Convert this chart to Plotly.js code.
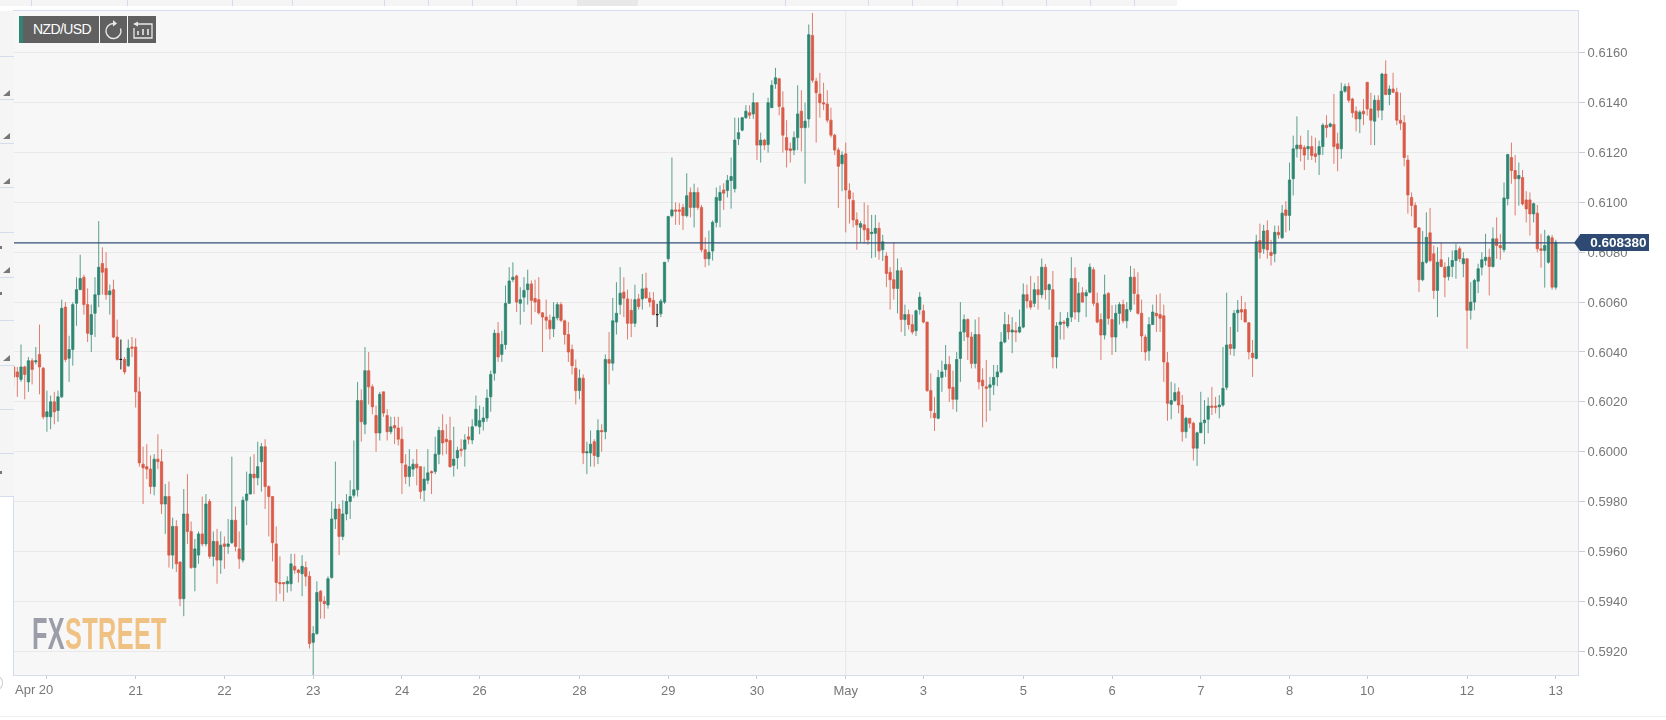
<!DOCTYPE html>
<html><head><meta charset="utf-8">
<script src="https://cdn.plot.ly/plotly-3.0.1.min.js"></script>
<style>
html,body{margin:0;padding:0;background:#fff;width:1666px;height:720px;overflow:hidden;font-family:"Liberation Sans",Arial,sans-serif}
#wrap{position:relative;width:1666px;height:720px;filter:blur(0.35px)}
#chart{position:absolute;left:0;top:0;width:1666px;height:720px}
.o{position:absolute;box-sizing:border-box}
#tabs{left:0;top:0;width:1177px;height:5.5px;background:#f5f5f5}
#tabs i{position:absolute;top:0;width:1px;height:5.5px;background:#d5dcee}
#side{left:0;top:11px;width:13.5px;height:486px;background:#f5f5f5}
#side i{position:absolute;left:0;width:13.5px;height:1px;background:#d5dcee}
#side b{position:absolute;left:3px;width:0;height:0;border-left:7px solid transparent;border-bottom:6px solid #777}
#side u{position:absolute;left:0;width:2px;height:2.5px;background:#777}
.btn{top:16px;height:27px;background:#606060}
#foot{left:0;top:716px;width:1666px;height:1px;background:#eee}
#arc{left:-8px;top:676px;width:11px;height:14px;border:1px solid #ccc;border-radius:50%}
#wm{left:32px;top:609px;font:bold 44px "Liberation Sans",sans-serif;transform-origin:0 0;transform:scaleX(0.575);white-space:nowrap;letter-spacing:.6px}
</style></head><body>
<div id="wrap">
<div id="chart"></div>
<div class="o" id="tabs"></div>
<div class="o" id="side"></div>
<div class="o btn" style="left:19px;width:80px;color:#fff;font-size:14px;line-height:27px;text-align:right;padding-right:8px;letter-spacing:-.6px;border-left:4.5px solid #2e8672">NZD/USD</div>
<div class="o btn" style="left:100px;width:27px"><svg width="27" height="27" viewBox="0 0 27 27"><path d="M13.500 7.500a7.500 7.500 0 1 0 7 5" fill="none" stroke="#e8e8e8" stroke-width="1.4"/><path d="M13 4l4 3.500-4 3z" fill="#e8e8e8"/></svg></div>
<div class="o btn" style="left:128px;width:28px"><svg width="28" height="27" viewBox="0 0 28 27"><path d="M9 8h15v14H6v-10" fill="none" stroke="#e8e8e8" stroke-width="1.3"/><path d="M10 5.500l-5 2.500 5 2.500z" fill="#e8e8e8"/><path d="M10 19v-4M15 19v-6M20 19v-6" stroke="#e8e8e8" stroke-width="1.6"/></svg></div>
<div class="o" id="wm"><span style="color:#9b9da8">FX</span><span style="color:#efc283">STREET</span></div>
<div class="o" id="foot"></div>
<div class="o" id="arc"></div>
</div>
<script>
// Prices are in units of 0.0001 (6034 = 0.6034)
const opens=[
6034,6032,6029,6034,6028,6036.5,6036,6039,6033.5,6014,
6014,6020,6016.5,6022,6058,6037.5,6041,6059.5,6065,6070,
6059,6047,6055.5,6063,6075.5,6073.5,6063,6065,6046,6037,
6037,6034.5,6042,6042,6024,5995,5994,5993,5986,5997,
5996,5979,5982,5958.5,5970,5955.7,5941,5975,5968,5953.5,
5958.5,5967,5963,5980,5958,5964,5956.5,5963,5962,5963.5,
5972.5,5961,5956.5,5980.5,5983,5991,5989.5,5996,6002,5986,
5982,5963,5947.5,5947.5,5947,5947,5954,5952.5,5951,5953.5,
5950,5923.5,5927,5944,5940,5938.5,5949.5,5973,5977,5966,
5975,5980,5982.5,5984.7,6020.5,6011,6032.5,6026,6014.5,6007.5,
6024,6014.5,6008,6010.5,6009.5,6005,5994.7,5990,5993,5995,
5994,5984.5,5988.5,5992,5992,5999,6008.5,6005,6004.5,5994.5,
5997.5,6001,6001,6006,6004.7,6010.5,6010,6012,6013.5,6022,
6031.5,6047.5,6039,6043,6059.5,6069,6070.5,6059.5,6062,6065,
6067.3,6061.5,6061,6055.7,6054,6052.7,6049.3,6053.7,6059,6052.5,
6047,6041,6033.5,6024.5,6029.5,5999.5,5999.5,6004,5998,6008.5,
6008,6037,6035.5,6052,6059,6064,6061.3,6056.7,6051.5,6061.3,
6061.3,6065.6,6061.6,6060.7,6055,6055.3,6060,6077.4,6094.7,6097,
6097,6098,6094.7,6104,6098,6104,6098,6081,6077.4,6080.5,
6092,6100.8,6105,6104.8,6108.8,6105.5,6125.5,6129,6134,6136,
6135.5,6140,6123,6125,6123.2,6138,6147.5,6149.6,6138,6126,
6121.5,6121,6126,6136.6,6130,6133.5,6167,6148.6,6143.5,6140,
6139.5,6133,6127,6121,6115.5,6119.5,6104.7,6100.8,6093,6090,
6091,6089.5,6087.5,6087.6,6089.6,6081,6078.5,6072,6069,6065.5,
6072.6,6053,6055,6051,6048.5,6057,6056.5,6052,6024.5,6015.4,
6013.4,6029.8,6033,6035,6025.8,6021,6037.4,6048,6053,6046,
6035.4,6047,6028.7,6026,6025.8,6026.8,6030,6032,6044,6051,
6048,6048.5,6048,6050,6063,6060.5,6059.5,6065,6063,6074,
6065,6065,6038,6051,6052,6050.4,6054,6069.5,6056,6063.8,
6062.5,6064,6073,6059.5,6053,6046.8,6063.5,6053,6046,6055.5,
6059,6052.5,6057,6070,6063,6055.5,6046,6040.5,6051,6055.5,
6055,6054.5,6035.7,6019,6020.5,6024,6018.7,6008,6013.4,6011.4,
6001.4,6007.6,6011.6,6013,6018.3,6018.3,6018,6018.7,6025.8,6043,
6041.4,6055.7,6057,6057,6051.7,6039.5,6037.4,6084.7,6081.4,6088.7,
6080,6079.4,6088,6085.8,6097,6094.8,6109.5,6121.5,6123,6122,
6121.5,6122.4,6119.5,6119.2,6122.4,6131,6130.5,6131.3,6123.5,6121.5,
6144.6,6146.5,6141.5,6136.6,6133.5,6136.6,6148.2,6137.5,6132.6,6141,
6137,6151.5,6143.3,6145.5,6144.2,6133,6132,6117,6102,6098.8,
6089.8,6069,6076,6087.8,6079.4,6064.7,6077,6074,6070.3,6074.3,
6076.7,6081.4,6075.4,6077.4,6056.7,6060,6068.4,6074,6076.7,6078,
6074.3,6085.4,6082.7,6081,6101.5,6118,6112.8,6109.5,6110,6101,
6101,6095.4,6095.7,6081.4,6080.7,6076,6085.8,6066];
const closes=[
6030,6030,6034,6031,6036.5,6033,6036.5,6034,6014,6016,
6020,6016,6022,6057.5,6037,6041,6059,6065,6069.5,6059,
6047.5,6055,6063,6074,6072,6063,6064.5,6046,6037,6037,
6032,6041.5,6041.5,6024,5995.5,5993.5,5993,5986,5997,5996,
5979,5982,5958.5,5970,5955,5941,5975,5968,5953.5,5961,
5967,5963,5979,5958,5964,5956.5,5962.5,5962,5963,5972.5,
5962,5957,5980.5,5983,5991,5989.5,5994,6002,5986,5982,
5963.5,5947.5,5947,5947,5948,5955,5952.5,5951.5,5954,5950,
5923,5927,5943.5,5940,5939,5949,5973,5977,5966,5975,
5980,5982,5984.7,6020.5,6012,6032.5,6026,6018,6007.5,6023,
6015.5,6008,6010,6009.5,6005,5995.5,5990,5994,5995,5993.5,
5984,5989,5991.5,5991.5,5999,6008.5,6003.5,6004,5994,5997,
6000.5,6000.5,6004.7,6005,6010,6017,6012.5,6013.5,6021.5,6031,
6047.5,6038,6043,6059.5,6068.5,6070,6060,6061,6064.7,6067.3,
6060.7,6060,6055.7,6054,6052.7,6049.3,6054,6059,6052.7,6047,
6040,6034.5,6024.5,6029.5,5999.5,6000,6003,5998.5,6008.5,6008,
6037,6035.5,6052.5,6055.5,6063.6,6061.6,6051.5,6051.5,6061,6058.2,
6065.3,6061.7,6060,6055,6055,6060.4,6076,6094.4,6097,6096.5,
6096.5,6094.7,6102.7,6098,6104,6098,6081,6077.4,6080,6092,
6102,6104,6103.7,6108.8,6110.4,6125,6128,6134,6136.6,6135,
6140,6123,6125,6123,6140,6147,6150,6138.5,6127,6121,
6120.8,6126,6135.5,6130,6132.6,6167.3,6149,6144,6140,6139.5,
6133,6127,6121,6114.5,6119,6105,6101.5,6093,6091,6091.5,
6089,6085,6088,6089.6,6080.5,6084.2,6071.5,6069,6065.5,6072.6,
6053,6055,6051,6048,6056.5,6062,6052,6024.5,6016.5,6013.6,
6029.8,6032,6035,6025.4,6021,6037,6048,6053,6046,6035.4,
6047,6028,6026.4,6025.4,6026.8,6029.8,6032,6044,6051,6048,
6048.8,6048,6050,6063,6060.5,6058,6065,6063,6074,6065,
6067,6038,6050.4,6052,6051.5,6053.5,6069.5,6056,6063.5,6060,
6063.8,6074,6059.5,6052,6046.8,6063,6053.5,6046,6055.5,6059,
6052.5,6057,6070,6063.5,6055.5,6046.4,6040,6051,6056,6054.5,
6053.5,6036,6019.4,6020.5,6023.7,6018.7,6008,6013.4,6011.4,6001.4,
6007.6,6011.6,6012.7,6018.3,6017.8,6017.8,6018.7,6025.4,6042.8,6041.4,
6055.5,6056.8,6056,6052,6040,6037.8,6084.2,6080,6088.5,6081,
6078.7,6088,6087,6095.7,6094.8,6109,6121.5,6123,6121.5,6119,
6122.4,6118.8,6118.4,6122.4,6131,6130,6131.5,6122.4,6121.5,6144.6,
6146.5,6141,6136,6133.5,6136.2,6135.5,6137.5,6133,6141,6137,
6151.5,6143.3,6145.5,6144.2,6133,6131.8,6118,6103,6098.8,6090,
6069,6076,6086,6076.7,6064.7,6076,6074.3,6070,6074.3,6076.7,
6080.7,6077.4,6077.4,6056.7,6060,6068.7,6073.4,6077,6078,6074.3,
6085.4,6082.7,6081.8,6101.8,6119.2,6112.8,6109.5,6110.8,6099.4,6097.4,
6095.4,6099.5,6081.4,6080.7,6082.7,6086.4,6066,6084];
const highs=[
6035,6034,6043,6034.5,6038,6037.5,6042,6051,6034,6024.5,
6022.5,6024,6024.5,6061,6060,6046.5,6060,6070,6079,6071,
6065.5,6059,6070,6092.5,6082,6080,6067,6069,6053,6045,
6038,6045,6046,6045.5,6030,6002,6003,5998.5,5999,6007,
6001,5987,5988,5973.5,5972.5,5956,5985,5991,5972,5965,
5968,5982,5983,5981,5968,5969,5968,5966,5973,5998,
5978,5968,5982,5992,5998,5999,6004,6003.5,6005,5986.5,
5982,5970,5958,5947.5,5950,5959,5959,5953,5958.5,5956,
5952,5930,5948,5944.5,5942,5950,5980,5996,5979,5980.5,
5983,5988.5,6004.5,6028,6025,6042,6040,6027,6018.5,6024,
6024,6017,6014,6014,6014,6010,5999,6001,5997,6001,
5994,5994,6001,5992.5,6006,6010,6015,6011,6014,6010,
6002,6005,6007,6010,6013,6022.5,6018.5,6018,6025,6032.5,
6049,6052,6048.5,6066.7,6074,6076,6071,6066,6070,6073,
6068.7,6069,6070,6056,6061,6055,6060,6060,6060,6053,
6052,6043,6037,6033,6031,6004,6008.5,6005,6013,6011,
6039,6048,6061.7,6068,6074,6070,6065,6061.3,6067,6063.3,
6071.3,6071.8,6064,6064,6059.3,6061.3,6076,6094.4,6118,6100,
6099.7,6099.4,6111.7,6106,6107.5,6106,6099,6086,6088.7,6092.8,
6106,6106.8,6107.7,6111,6118,6134,6134,6134.3,6139,6139,
6144,6140,6128,6125.5,6142,6149,6154,6150,6144.6,6133,
6124,6128.5,6147,6145,6140,6171.4,6176,6150,6152,6148,
6145,6138,6127.5,6122,6120.5,6124,6107.7,6104,6096,6092.5,
6100,6099,6095,6095,6092,6087,6080,6074,6084,6077.5,
6074,6059,6057,6055,6057,6064,6059,6052,6031.4,6022,
6032.8,6036.5,6042.8,6038.4,6032.5,6040,6060,6055,6053.5,6048,
6053,6054,6033.4,6036.8,6030,6034.8,6034.8,6048,6056,6055,
6054,6052,6057,6067.5,6067,6070.5,6067.8,6070.5,6077.5,6075.3,
6067.5,6072.5,6052,6056,6052.8,6056,6078,6074,6068,6066,
6065,6075.5,6074,6063.8,6055.5,6071,6064,6058.8,6059,6060,
6061,6060,6074.5,6073.5,6072,6061,6047,6054,6059,6063,
6063.5,6059,6040,6028,6027.4,6025.8,6022.7,6014,6013.4,6012,
6008,6024,6020.7,6021.8,6026,6022,6022.7,6042,6063.8,6050,
6056.8,6060.8,6062.5,6060,6052,6044.8,6087,6091.5,6091,6092.8,
6085,6090.7,6090.7,6099,6100.5,6116,6126.8,6134.5,6126.8,6123,
6129,6126.8,6126,6124.8,6131.8,6135,6132,6143.5,6128,6148,
6147.6,6148,6142,6138.5,6137,6141.5,6148.2,6144,6143,6143,
6152,6157,6147,6152,6146,6144,6135,6119,6104,6100,
6090,6088.5,6096,6097.8,6082.7,6082,6084,6076,6078,6080.7,
6083.4,6082.4,6080,6077.4,6068,6069.4,6075.4,6080,6087.4,6081.4,
6090,6094,6087.4,6108,6119.5,6124,6119,6116,6113,6104.5,
6104,6100,6099,6087.4,6089,6087,6087,6085];
const lows=[
6026,6022,6028,6021,6024,6027,6035,6023,6013,6008,
6009,6011,6012,6021.5,6036,6028,6034.5,6050.5,6065,6055,
6044,6040,6046,6058,6063,6061,6055,6045.5,6036.5,6033,
6031,6034,6038,6017.7,5994,5979,5989,5983,5982.5,5993,
5975,5967,5953.5,5953,5951.7,5938,5934,5963,5953,5944,
5955,5962,5962,5957,5954,5947,5951,5953,5959,5963,
5960,5953,5955.5,5970.5,5983,5983,5986.5,5984,5977,5966,
5956,5940,5943,5940,5943.5,5944,5951,5947.5,5942,5946,
5921,5910,5926.5,5933,5933,5937,5949,5969,5958.5,5964.5,
5972.5,5973,5981.5,5982,6004,6007,6019,6015,6000,6004.5,
6014,6004.5,6007,6003,6002.5,5983,5987,5986,5990,5986.5,
5981,5980,5987,5983,5991,5995,5998.5,5999,5993.5,5990,
5993,5998,5994,6003,6003,6010,6007,6008.5,6012,6016,
6028.5,6036,6036,6041,6059.5,6068,6056,6051,6056,6059,
6051,6056,6055,6040,6049,6045,6046,6052.7,6052,6043,
6036,6031,6019,6021,5995,5991,5994,5994,5995,6000,
6005,6027,6032.5,6047,6055,6054,6045,6046,6050,6057,
6057,6061.3,6058,6054.7,6050,6054,6059.3,6076,6094,6091,
6091,6089,6094,6094,6090,6097,6080,6074,6074.7,6076.7,
6090,6090,6097,6102,6097.5,6104,6123,6128.5,6133.5,6133.5,
6133.5,6117,6116,6121,6120,6138,6145.6,6135,6120,6114,
6116,6119,6121,6120.5,6107.5,6130,6148,6124,6134,6137,
6132,6126,6119,6097.8,6104.5,6088,6091.5,6090,6081,6084,
6083.5,6083,6077.6,6078,6077,6076.5,6066,6057,6061,6055.5,
6048,6046.4,6049,6047,6046.4,6055,6051.5,6024,6013.4,6008.3,
6013,6024,6030,6020,6017,6016,6028,6044.4,6036.8,6033.4,
6033.4,6025,6009.8,6012,6016.4,6022.7,6026.3,6031.4,6043.5,6045,
6039.5,6044,6047.5,6049.5,6057.5,6057,6058,6057,6061.5,6061,
6057,6033.4,6033.4,6045,6045,6049.5,6052,6053,6052,6059.8,
6054,6063.5,6058.4,6051.5,6036.8,6045,6051,6038.8,6040,6051,
6051.5,6049.5,6056,6059,6055,6040,6036.5,6036.5,6050.8,6048,
6048,6028,6012.4,6013,6020,6015.4,6004,6005.4,6009.4,5996.5,
5994.3,6007.4,6003,6007.4,6014.7,6015.4,6013.4,6018,6024.7,6038.8,
6038.4,6048,6052.8,6052,6037,6030,6037,6077.4,6079.4,6077.4,
6074.7,6076,6085.4,6085.4,6088,6088.7,6102.8,6118,6116.5,6113,
6117,6117,6116,6111,6119,6126,6130,6115.5,6112.5,6117.5,
6144,6140,6134,6128.5,6127.8,6131,6134.8,6123,6123,6134,
6133,6143,6139,6144,6131,6129,6114.5,6095.5,6094.4,6089.8,
6064,6068.4,6075.4,6076,6061.3,6054,6074,6062,6068.7,6070,
6069.4,6076,6070,6041.3,6053,6056.7,6063.6,6070.7,6074.7,6062.7,
6073.8,6077.4,6077,6080,6098.8,6107.5,6094.8,6098.7,6098.7,6092,
6086.7,6092,6080,6073.8,6065.8,6075.4,6065,6065];

const tickIndex=[9,33,57,81,105,126,153,177,201,225,246,273,297,321,345,366,393,417];
const tickLabels=['Apr 20','21','22','23','24','26','28','29','30','May','3','5','6','7','8','10','12','13'];
const priceTicks=[0.5920,0.5940,0.5960,0.5980,0.6000,0.6020,0.6040,0.6060,0.6080,0.6100,0.6120,0.6140,0.6160];
const lastPrice=0.60838;

const price=v=>v/10000;
const regular=[],doji=[];
opens.forEach((o,i)=>(o===closes[i]?doji:regular).push(i));
const pick=(arr,idx)=>idx.map(i=>price(arr[i]));
const GREEN='#2e8672',RED='#d95b48';
function candle(idx,up,down,upLine,downLine){
  return {type:'candlestick',x:idx,open:pick(opens,idx),high:pick(highs,idx),low:pick(lows,idx),close:pick(closes,idx),
    increasing:{line:{color:upLine,width:1},fillcolor:up},decreasing:{line:{color:downLine,width:1},fillcolor:down},
    whiskerwidth:0,hoverinfo:'skip',showlegend:false};
}
const traces=[
  candle(regular,GREEN,RED,'rgba(46,134,114,0.78)','rgba(217,91,72,0.78)'),
  candle(doji,'#111','#111','#111','#111')
];
const TXT={family:'"Liberation Sans",Arial,sans-serif',size:13,color:'#777'};
const layout={
  width:1666,height:720,margin:{l:13.5,r:88,t:10.5,b:45},boxgap:0.12,
  paper_bgcolor:'rgba(0,0,0,0)',plot_bgcolor:'#f7f7f7',showlegend:false,
  xaxis:{type:'linear',range:[0.1,423],rangeslider:{visible:false},showgrid:false,zeroline:false,
    tickmode:'array',tickvals:tickIndex,ticktext:tickLabels.map((t,i)=>i===0?'':t),
    ticks:'outside',ticklen:3,tickcolor:'#ccc',tickfont:TXT,
    showline:true,linecolor:'#d5dcee',linewidth:1,mirror:true,fixedrange:true},
  yaxis:{side:'right',range:[0.59104,0.61768],showgrid:true,gridcolor:'#e9e9e9',gridwidth:1,zeroline:false,
    tickmode:'array',tickvals:priceTicks,ticktext:priceTicks.map(v=>v.toFixed(4)),
    ticks:'outside',ticklen:6,tickcolor:'#ccc',tickfont:TXT,
    showline:true,linecolor:'#d5dcee',linewidth:1,mirror:true,fixedrange:true},
  shapes:[
    {type:'line',layer:'below',xref:'x',yref:'paper',x0:tickIndex[9],x1:tickIndex[9],y0:0,y1:1,line:{color:'#e6e6e6',width:1}},
    {type:'line',xref:'paper',yref:'y',x0:0,x1:1,y0:lastPrice,y1:lastPrice,line:{color:'#34507a',width:1.2}},
    {type:'path',xref:'paper',yref:'y',fillcolor:'#2e4a72',line:{width:0},
     path:`M 1.0015 ${lastPrice+0.00034} L 0.9975 ${lastPrice} L 1.0015 ${lastPrice-0.00034} Z`}
  ],
  annotations:[
    {xref:'paper',yref:'paper',x:0,y:0,xanchor:'left',yanchor:'top',yshift:-6,text:tickLabels[0],showarrow:false,font:TXT,borderpad:0},
    {xref:'paper',yref:'y',x:1.0013,y:lastPrice,xanchor:'left',yanchor:'middle',text:lastPrice.toFixed(6),showarrow:false,
     bgcolor:'#2e4a72',borderpad:2,borderwidth:0,width:64.500,height:13,align:'right',font:{family:TXT.family,size:13.500,color:'#fff',weight:'bold'}}
  ]
};
Plotly.newPlot('chart',traces,layout,{staticPlot:true,displayModeBar:false});

// page chrome around the chart
const tabs=document.getElementById('tabs');
[[577,61]].forEach(([l,w])=>{const d=document.createElement('div');d.style.cssText=`position:absolute;left:${l}px;width:${w}px;top:0;height:5.5px;background:#e8e8e8`;tabs.appendChild(d);});
[30.7,126.7,232.3,292.3,384.3,428.3,472.3,516.3,784.7,868,912,957,1001.7,1045.7,1089.7,1133.7].forEach(x=>{const d=document.createElement('i');d.style.left=x+'px';tabs.appendChild(d);});
const side=document.getElementById('side');
[45,88,132,176,221,266,309,354,398,442,485].forEach(y=>{const d=document.createElement('i');d.style.top=y+'px';side.appendChild(d);});
[79,122,167,256,344].forEach(y=>{const d=document.createElement('b');d.style.top=y+'px';side.appendChild(d);});
[235,281,460].forEach(y=>{const d=document.createElement('u');d.style.top=y+'px';side.appendChild(d);});
</script>
</body></html>
